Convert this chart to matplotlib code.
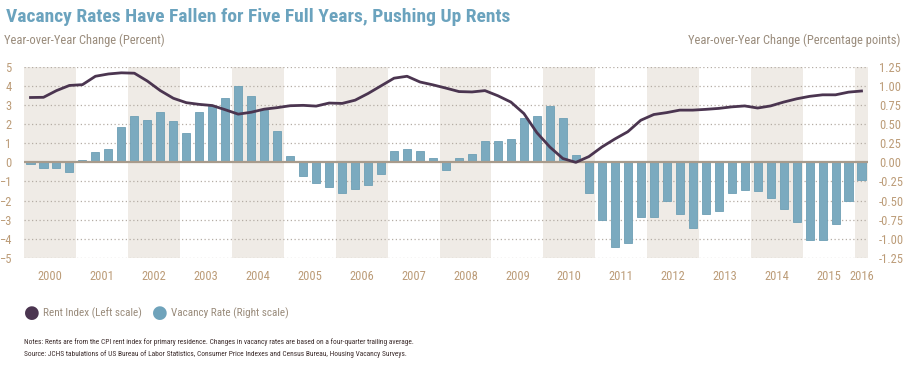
import numpy as np
import matplotlib
matplotlib.use('Agg')
import matplotlib.pyplot as plt
from matplotlib import font_manager

# pick a narrow font if one is installed
names = set(f.name for f in font_manager.fontManager.ttflist)
font = 'DejaVu Sans'
for cand in ['Liberation Sans Narrow', 'DejaVu Sans Condensed', 'Roboto Condensed', 'Open Sans Condensed', 'Noto Sans']:
    if cand in names:
        font = cand
        break
plt.rcParams['font.family'] = [font, 'DejaVu Sans']

years = ['2000', '2001', '2002', '2003', '2004', '2005', '2006', '2007',
         '2008', '2009', '2010', '2011', '2012', '2013', '2014', '2015', '2016']

# rent index, yoy % change, quarterly 2000Q1-2016Q1 (left scale)
rent = [3.39, 3.40, 3.75, 4.02, 4.06, 4.50, 4.62, 4.68,
        4.66, 4.25, 3.75, 3.35, 3.12, 3.03, 2.97, 2.75,
        2.52, 2.62, 2.78, 2.86, 2.96, 2.98, 2.94, 3.10,
        3.08, 3.25, 3.60, 4.00, 4.40, 4.50, 4.20, 4.05,
        3.88, 3.70, 3.68, 3.75, 3.48, 3.15, 2.55, 1.55,
        0.80, 0.20, 0.00, 0.30, 0.80, 1.22, 1.60, 2.20,
        2.50, 2.60, 2.73, 2.73, 2.77, 2.82, 2.90, 2.95,
        2.84, 2.95, 3.15, 3.32, 3.45, 3.53, 3.53, 3.67, 3.73]

# vacancy rate change, percentage points (right scale)
vacancy = [-0.02, -0.075, -0.075, -0.125, 0.025, 0.14, 0.175, 0.465,
           0.61, 0.55, 0.655, 0.54, 0.39, 0.655, 0.74, 0.84,
           1.0, 0.865, 0.685, 0.41, 0.085, -0.18, -0.27, -0.325,
           -0.40, -0.35, -0.30, -0.155, 0.15, 0.18, 0.15, 0.06,
           -0.10, 0.06, 0.11, 0.28, 0.28, 0.31, 0.58, 0.61,
           0.74, 0.58, 0.09, -0.40, -0.755, -1.11, -1.05, -0.71,
           -0.71, -0.51, -0.68, -0.86, -0.68, -0.64, -0.40, -0.36,
           -0.38, -0.46, -0.61, -0.78, -1.02, -1.02, -0.81, -0.51, -0.23]

title_c = '#6BA3BE'
tick_c = '#BC9C78'
label_c = '#9A8C7C'
line_c = '#4B3550'
bar_c = '#7BAABF'
shade_c = '#EFEBE6'

fig = plt.figure(figsize=(9.1, 3.67), dpi=100)
ax = fig.add_axes([24 / 910, 1 - 258 / 367, 844 / 910, (258 - 66.7) / 367])
ax2 = ax.twinx()

n = len(rent)
x = np.arange(n)

# alternating shaded years (on the bar axis so they sit behind the bars)
for i in range(0, len(years), 2):
    ax2.axvspan(i * 4 - 0.5, min(i * 4 + 3.5, n - 0.5), color=shade_c, lw=0, zorder=0)

for yv in [1.25, 1.0, 0.75, 0.5, 0.25, -0.25, -0.5, -0.75, -1.0, -1.25]:
    ax2.axhline(yv, color='#B5ADA5', lw=0.9, ls=(0, (1, 2)), zorder=1)

ax2.bar(x, vacancy, width=0.62, color=bar_c, edgecolor='#6E9FB5', lw=0.6, zorder=2)
ax2.axhline(0, color='#A89B8C', lw=1.6, zorder=3)
ax.plot(x, rent, color=line_c, lw=2.0, zorder=5, solid_joinstyle='round')

ax.set_zorder(ax2.get_zorder() + 1)
ax.patch.set_visible(False)

ax.set_xlim(-0.5, n - 0.5)
ax.set_ylim(-5, 5)
ax2.set_ylim(-1.25, 1.25)
ax.set_yticks(range(-5, 6))
ax2.set_yticks(np.arange(-1.25, 1.26, 0.25))
ax2.set_yticklabels(['%.2f' % v for v in np.arange(-1.25, 1.26, 0.25)])

xt = [i * 4 + 1.5 for i in range(len(years) - 1)] + [64]
ax.set_xticks(xt)
ax.set_xticklabels(years)

for a in (ax, ax2):
    for s in a.spines.values():
        s.set_visible(False)
    a.tick_params(length=0, colors=tick_c, labelsize=9)
ax.tick_params(axis='y', pad=9)
ax2.tick_params(axis='y', pad=8)
ax.tick_params(axis='x', pad=9)

fig.text(6 / 910, 1 - 17 / 367, 'Vacancy Rates Have Fallen for Five Full Years, Pushing Up Rents',
         color=title_c, fontsize=14, fontweight='bold', va='center', ha='left')
fig.text(4 / 910, 1 - 40 / 367, 'Year-over-Year Change (Percent)', color=label_c,
         fontsize=9, va='center', ha='left')
fig.text(900 / 910, 1 - 40 / 367, 'Year-over-Year Change (Percentage points)', color=label_c,
         fontsize=9, va='center', ha='right')

# legend
fig.text(24 / 910, 1 - 313 / 367, '\u25CF', color=line_c, fontsize=13, va='center', ha='left',
         family='DejaVu Sans')
fig.text(43 / 910, 1 - 313 / 367, 'Rent Index (Left scale)', color=label_c, fontsize=8, va='center')
fig.text(152 / 910, 1 - 313 / 367, '\u25CF', color='#6FA3BB', fontsize=13, va='center', ha='left',
         family='DejaVu Sans')
fig.text(171 / 910, 1 - 313 / 367, 'Vacancy Rate (Right scale)', color=label_c, fontsize=8, va='center')

fig.text(24 / 910, 1 - 342 / 367,
         'Notes: Rents are from the CPI rent index for primary residence. Changes in vacancy rates are based on a four-quarter trailing average.',
         color='#3A2A2A', fontsize=5.3, va='center')
fig.text(24 / 910, 1 - 354 / 367,
         'Source: JCHS tabulations of US Bureau of Labor Statistics, Consumer Price Indexes and Census Bureau, Housing Vacancy Surveys.',
         color='#3A2A2A', fontsize=5.3, va='center')

fig.savefig('out.png', dpi=100)
